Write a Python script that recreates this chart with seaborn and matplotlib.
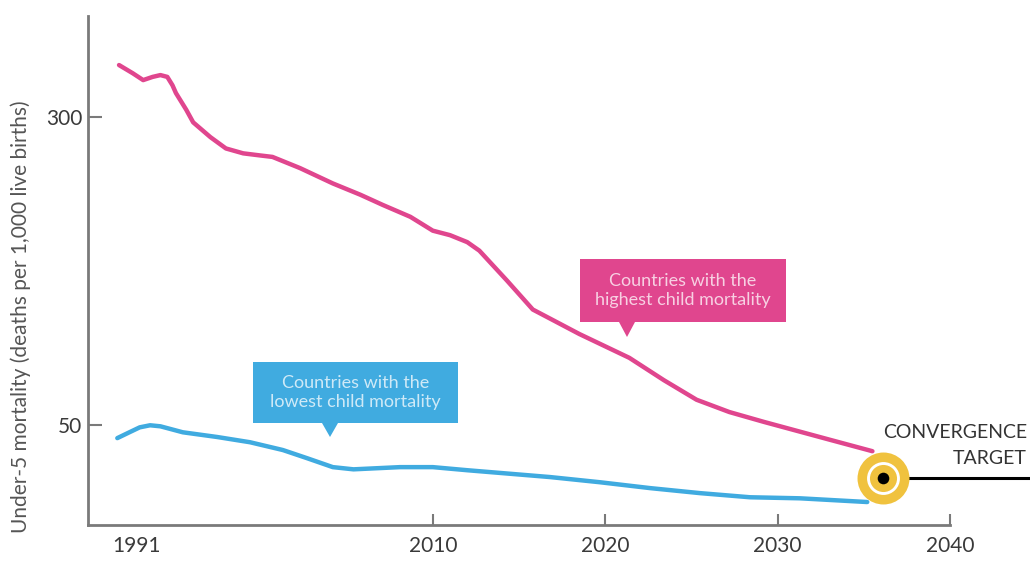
import matplotlib
matplotlib.use("Agg")
import matplotlib.pyplot as plt
import seaborn as sns
import pandas as pd
from matplotlib.patches import Rectangle, Polygon

# ---- data ----
high_years = [1991.8, 1992.6, 1993.2, 1993.75, 1994.2, 1994.6, 1994.9, 1995.1, 1995.7,
              1996.1, 1997.1, 1998.0, 1999.0, 2000.0, 2000.7, 2002.3, 2004.2, 2005.8,
              2007.1, 2008.7, 2010.0, 2011.0, 2012.0, 2012.7, 2014.3, 2015.8, 2017.0,
              2018.5, 2021.4, 2023.4, 2025.3, 2027.2, 2029.2, 2033.0, 2035.5]
high_vals = [406, 387, 372, 379, 383, 379, 361, 345, 313,
             291, 267, 250, 243, 240, 238, 223, 204, 191,
             180, 168, 155, 151, 145, 138, 116, 98, 92,
             85, 74, 65, 58, 54, 51, 46, 43]
low_years = [1991.7, 1992.4, 1993.0, 1993.6, 1994.2, 1995.5, 1997.5, 1999.4, 2001.3,
             2002.7, 2004.2, 2005.4, 2008.1, 2010.0, 2012.0, 2013.9, 2016.8, 2019.7,
             2022.6, 2025.5, 2028.4, 2031.3, 2035.2]
low_vals = [46.4, 48.0, 49.4, 50.0, 49.7, 48.0, 46.7, 45.3, 43.3,
            41.3, 39.2, 38.7, 39.2, 39.2, 38.5, 37.9, 37.0, 35.9,
            34.7, 33.7, 32.9, 32.7, 32.0]
target_year = [2036.1]
target_val = [36.7]
x_ticks = [2010, 2020, 2030, 2040]
y_ticks = [50, 300]
first_label = "1991"

PINK = "#e0468e"
BLUE = "#40abe0"
YELLOW = "#f0c23e"
GREY = "#7a7a7a"
TXT = "#3a3a3a"

sns.set_theme(style="white")
plt.rcParams["font.family"] = ["Lato", "DejaVu Sans"]

fig = plt.figure(figsize=(10.30, 5.61), dpi=100)
ax = fig.add_axes([88/1030, 1-525/561, (950-88)/1030, (525-16)/561])

df_high = pd.DataFrame({"year": high_years, "value": high_vals})
df_low = pd.DataFrame({"year": low_years, "value": low_vals})
sns.lineplot(data=df_high, x="year", y="value", color=PINK, lw=3.2, ax=ax,
             solid_joinstyle="round", solid_capstyle="round")
sns.lineplot(data=df_low, x="year", y="value", color=BLUE, lw=3.2, ax=ax,
             solid_joinstyle="round", solid_capstyle="round")

ax.set_yscale("log")
ax.set_xlim(1990, 2040)
ax.set_ylim(28, 540)

ax.set_xticks(x_ticks)
ax.set_xticklabels([str(t) for t in x_ticks])
ax.set_xticks([1992.8], minor=True)
ax.set_xticklabels([first_label], minor=True)
ax.set_yticks(y_ticks)
ax.set_yticklabels([str(t) for t in y_ticks])
ax.yaxis.set_minor_locator(matplotlib.ticker.NullLocator())
ax.tick_params(axis="x", which="major", direction="in", length=8, width=1.5,
               color=GREY, labelsize=15, labelcolor=TXT, pad=8, bottom=True)
ax.tick_params(axis="x", which="minor", length=0, labelsize=15,
               labelcolor=TXT, pad=8, bottom=True)
ax.tick_params(axis="y", which="major", direction="in", length=10, width=1.5,
               color=GREY, labelsize=15, labelcolor=TXT, pad=4, left=True)

for s in ["top", "right"]:
    ax.spines[s].set_visible(False)
for s in ["left", "bottom"]:
    ax.spines[s].set_color(GREY)
    ax.spines[s].set_linewidth(2)

ax.set_xlabel("")
ax.set_ylabel("Under-5 mortality (deaths per 1,000 live births)", fontsize=15,
              color="#555555")
ax.yaxis.set_label_coords(-0.066, 0.41)

# convergence target
ax.plot([target_year[0], 2044.7], [target_val[0], target_val[0]], color="black",
        lw=2.2, clip_on=False, zorder=4)
ax.scatter(target_year, target_val, s=1400, color=YELLOW, zorder=5, clip_on=False, lw=0)
ax.scatter(target_year, target_val, s=560, color="white", zorder=6, clip_on=False, lw=0)
ax.scatter(target_year, target_val, s=380, color=YELLOW, zorder=7, clip_on=False, lw=0)
ax.scatter(target_year, target_val, s=70, color="black", zorder=8, clip_on=False, lw=0)

fig.text(1027/1030, 1-432/561, "CONVERGENCE", ha="right", va="center",
         fontsize=14, color="#333333")
fig.text(1027/1030, 1-458/561, "TARGET", ha="right", va="center",
         fontsize=14, color="#333333")

# callout boxes
def callout(x0, y0, x1, y1, px, tip_y, color, text):
    W, H = 1030, 561
    fig.patches.append(Rectangle((x0/W, 1-y1/H), (x1-x0)/W, (y1-y0)/H,
                                 transform=fig.transFigure, color=color, lw=0))
    fig.patches.append(Polygon([((px-8)/W, 1-y1/H), ((px+8)/W, 1-y1/H),
                                (px/W, 1-tip_y/H)], closed=True,
                               transform=fig.transFigure, color=color, lw=0))
    fig.text((x0+x1)/2/W, 1-(y0+y1)/2/H, text, ha="center", va="center",
             fontsize=13, color="white", alpha=0.75, linespacing=1.3)

callout(253, 362, 458, 423, 330, 437, BLUE,
        "Countries with the\nlowest child mortality")
callout(580, 259, 786, 322, 627, 337, PINK,
        "Countries with the\nhighest child mortality")

fig.savefig("out.png", dpi=100)
